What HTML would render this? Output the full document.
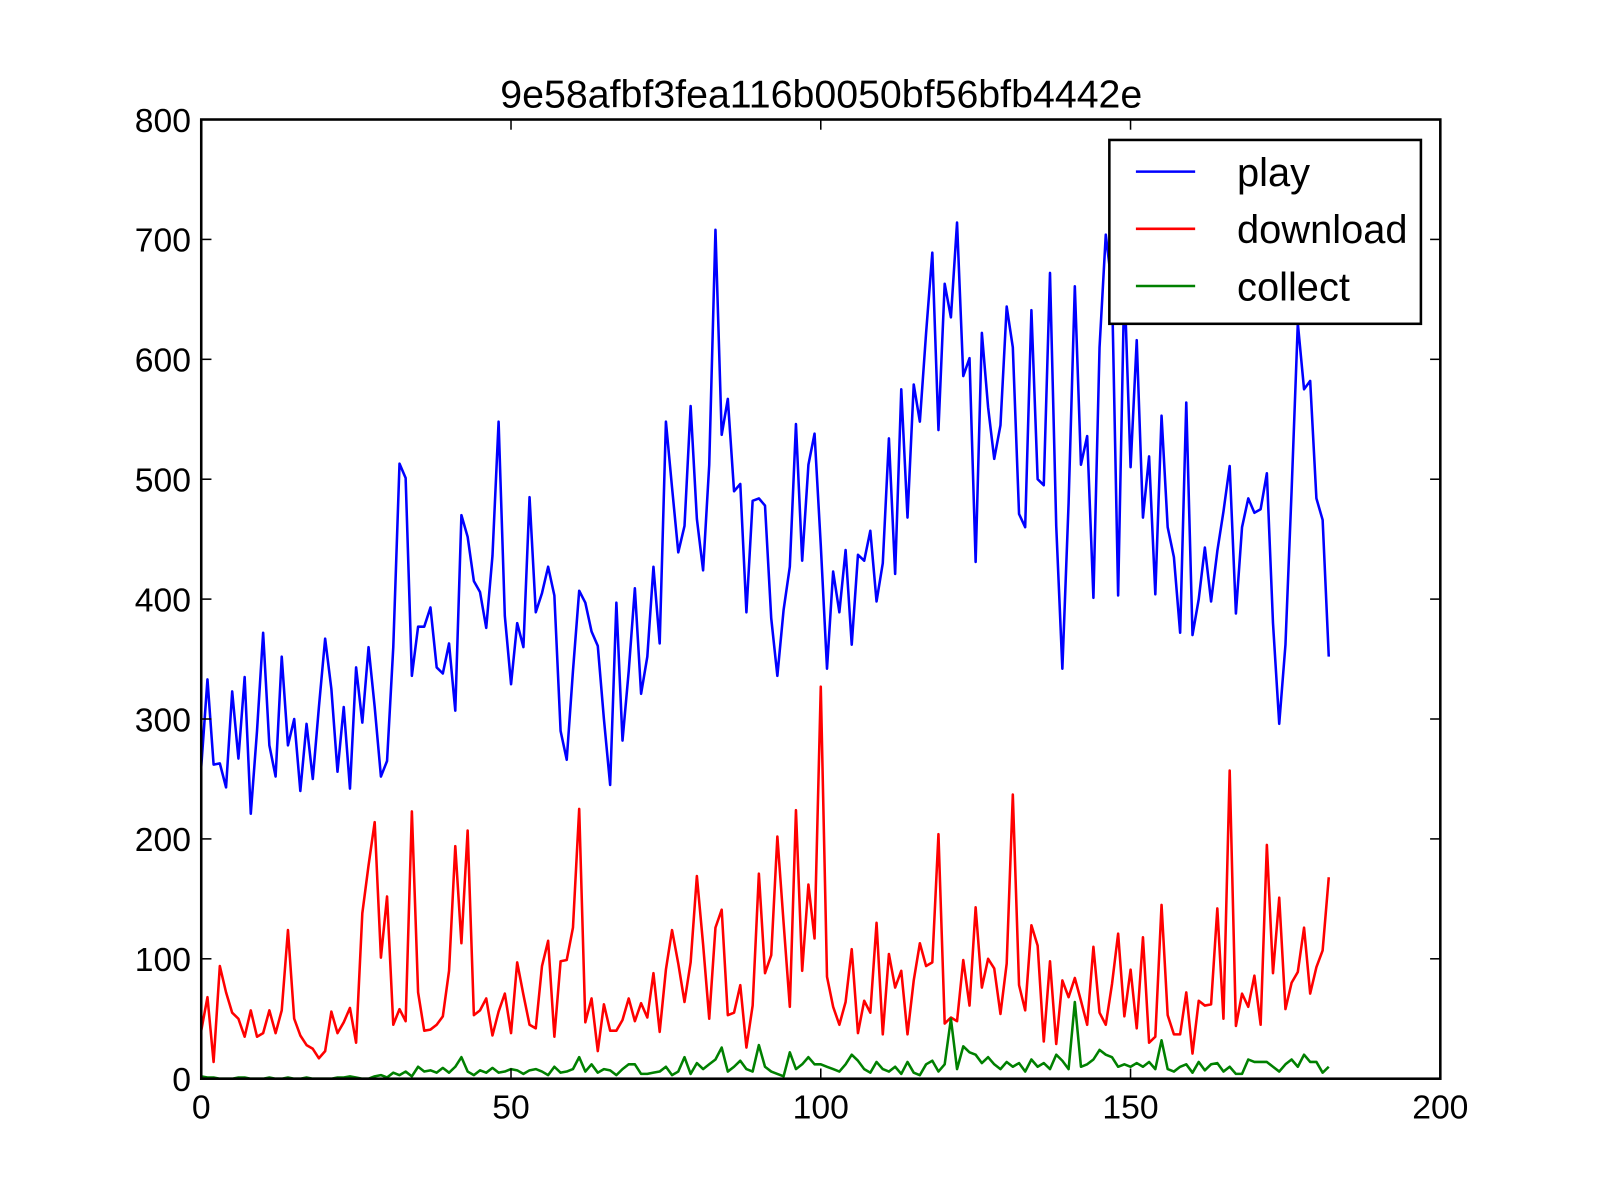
<!DOCTYPE html>
<html><head><meta charset="utf-8"><style>
html,body{margin:0;padding:0;background:#fff;width:1600px;height:1200px;overflow:hidden}
svg{display:block;font-family:"Liberation Sans",sans-serif}
</style></head><body>
<svg id="chart" width="1600" height="1200" viewBox="0 0 1600 1200" xmlns="http://www.w3.org/2000/svg">
<g transform="scale(1.0215)">
<text x="804" y="105" font-size="38.5" text-anchor="middle">9e58afbf3fea116b0050bf56bfb4442e</text>
<g id="series"></g>
<g id="axes"></g>
<g>
<rect x="1086" y="137" width="305" height="180" fill="#fff" stroke="#000" stroke-width="2.5"/>
<line x1="1112" y1="168" x2="1170" y2="168" stroke="#0000ff" stroke-width="2.5"/>
<text x="1211" y="182" font-size="39">play</text>
<line x1="1112" y1="224" x2="1170" y2="224" stroke="#ff0000" stroke-width="2.5"/>
<text x="1211" y="238" font-size="39">download</text>
<line x1="1112" y1="280" x2="1170" y2="280" stroke="#008000" stroke-width="2.5"/>
<text x="1211" y="294" font-size="39">collect</text>
</g>
</g>
</svg>
<script>
const xTicks=[0,50,100,150,200];
const yTicks=[0,100,200,300,400,500,600,700,800];
const play=[260,333,262,263,243,323,267,335,221,290,372,278,252,352,278,300,240,296,250,310,367,325,256,310,242,343,297,360,310,252,265,360,513,501,336,377,377,393,343,338,363,307,470,452,415,406,376,436,548,386,329,380,360,485,389,405,427,403,290,266,340,407,397,373,361,300,245,397,282,340,409,321,352,427,363,548,493,439,461,561,467,424,512,708,537,567,490,496,389,482,484,478,384,336,391,427,546,432,512,538,445,342,423,389,441,362,437,432,457,398,430,534,421,575,468,579,548,622,689,541,663,635,714,586,601,431,622,560,517,545,644,610,471,460,641,500,495,672,461,342,480,661,512,536,401,610,704,660,403,666,510,616,468,519,404,553,460,435,372,564,370,400,443,398,440,473,511,388,460,484,472,475,505,380,296,362,490,630,575,582,484,466,352];
const download=[40,68,14,94,72,55,50,35,57,35,38,57,38,57,124,50,36,28,25,17,23,56,38,47,59,30,138,178,214,101,152,45,58,48,223,72,40,41,45,52,90,194,113,207,53,57,67,36,56,71,38,97,70,45,42,94,115,35,98,99,126,225,47,67,23,62,40,40,49,67,48,63,51,88,39,91,124,96,64,97,169,112,50,126,141,53,55,78,26,61,171,88,103,202,130,60,224,90,162,117,327,85,60,45,64,108,38,65,55,130,37,104,76,90,37,82,113,94,97,204,46,51,48,99,61,143,76,100,92,54,96,237,78,57,128,111,31,98,29,82,68,84,65,45,110,55,45,79,121,52,91,42,118,30,35,145,53,37,37,72,21,65,61,62,142,50,257,44,71,60,86,45,195,88,151,58,80,89,126,71,93,107,168];
const collect=[2,1,1,0,0,0,1,1,0,0, 0,1,0,0,1,0,0,1,0,0, 0,0,1,1,2,1,0,0,2,3, 1,5,3,6,2,10,6,7,5,9, 5,10,18,6,3,7,5,9,5,6, 8,7,4,7,8,6,3,10,5,6, 8,18,6,12,5,8,7,3,8,12, 12,4,4,5,6,10,3,6,18,4, 13,8,12,16,26,6,10,15,8,6, 28,10,6,4,2,22,8,12,18,12, 12,10,8,6,12,20,15,8,5,14, 8,6,10,4,14,5,3,12,15,6, 12,50,8,27,22,20,13,18,12,8, 14,10,13,6,16,10,13,8,20,15, 8,64,10,12,16,24,20,18,10,12, 10,13,10,14,8,32,8,6,10,12, 5,14,7,12,13,6,10,4,4,16, 14,14,14,10,6,12,16,10,20,14, 14,5,10];
const L=197,R=1410,T=117,B=1056;
const xs=v=>L+(v-0)/(200-0)*(R-L);
const ys=v=>B-(v-0)/(800-0)*(B-T);
const NS="http://www.w3.org/2000/svg";
const sg=document.getElementById('series');
function line(arr,color,name){
  const p=document.createElementNS(NS,'polyline');
  p.setAttribute('points',arr.map((v,i)=>xs(i).toFixed(1)+','+ys(v).toFixed(1)).join(' '));
  p.setAttribute('fill','none');p.setAttribute('stroke',color);p.setAttribute('stroke-width','2.5');
  p.setAttribute('stroke-linejoin','round');
  
  
  sg.appendChild(p);
}
line(play,'#0000ff','play-line');
line(download,'#ff0000','download-line');
line(collect,'#008000','collect-line');
const ag=document.getElementById('axes');
const frame=document.createElementNS(NS,'rect');
frame.setAttribute('x',L);frame.setAttribute('y',T);frame.setAttribute('width',R-L);frame.setAttribute('height',B-T);
frame.setAttribute('fill','none');frame.setAttribute('stroke','#000');frame.setAttribute('stroke-width','2.5');


ag.appendChild(frame);
function mk(tag,attrs){const e=document.createElementNS(NS,tag);for(const k in attrs)e.setAttribute(k,attrs[k]);ag.appendChild(e);return e;}
xTicks.forEach(t=>{
  const x=xs(t);
  const a=mk('line',{x1:x,y1:B,x2:x,y2:B-10,stroke:'#000','stroke-width':1.5});
  
  
  const b=mk('line',{x1:x,y1:T,x2:x,y2:T+10,stroke:'#000','stroke-width':1.5});
  
  
  const tx=mk('text',{x:x,y:B+39,'font-size':33,'text-anchor':'middle'});
  tx.textContent=t;
  
  
});
yTicks.forEach(t=>{
  const y=ys(t);
  const a=mk('line',{x1:L,y1:y,x2:L+10,y2:y,stroke:'#000','stroke-width':1.5});
  
  
  const b=mk('line',{x1:R,y1:y,x2:R-10,y2:y,stroke:'#000','stroke-width':1.5});
  
  
  const tx=mk('text',{x:L-10,y:y+12,'font-size':33,'text-anchor':'end'});
  tx.textContent=t;
  
  
});
</script>
</body></html>
